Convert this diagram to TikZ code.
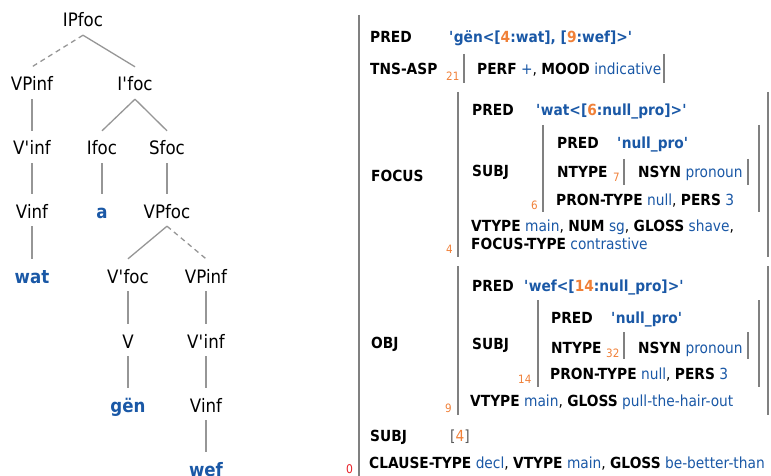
\documentclass[tikz,border=0pt]{standalone}
\usepackage{fontspec}
\setmainfont[FakeStretch=0.9]{DejaVu Sans}
\usepackage{tikz}
\definecolor{fsblue}{RGB}{26,88,166}
\definecolor{fsorange}{RGB}{240,128,56}
\definecolor{fsred}{RGB}{232,32,40}
\definecolor{fsbar}{RGB}{128,128,128}
\definecolor{trline}{RGB}{150,150,150}
\definecolor{fsgrey}{RGB}{90,90,90}
\newcommand{\fattr}[1]{\textbf{#1}}
\newcommand{\fval}[1]{\textcolor{fsblue}{#1}}
\newcommand{\fsem}[1]{\textbf{\textcolor{fsblue}{#1}}}
\newcommand{\fidx}[1]{\textcolor{fsorange}{#1}}
\newcommand{\fq}{\textquotesingle}

\begin{document}
\begin{tikzpicture}[x=1pt, y=-1pt,
    tn/.style={anchor=base, inner sep=4pt, text height=20pt, text depth=4pt, font=\fontsize{18.5}{20}\selectfont},
    lf/.style={tn, text=fsblue, font=\fontsize{18.5}{20}\selectfont\bfseries},
    br/.style={trline, line width=1.3pt},
    brd/.style={br, dash pattern=on 5pt off 4pt},
    fs/.style={anchor=base west, inner sep=0pt, font=\fontsize{15.3}{18}\selectfont},
    ix/.style={anchor=base west, inner sep=0pt, text=fsorange, font=\fontsize{11.5}{13}\selectfont},
    bar/.style={fsbar, line width=2.2pt}]
          \useasboundingbox (0, 0) rectangle (771, 476);
          \node [tn] (IPF) at (83, 27) {IPfoc};
          \node [tn] (VPL) at (32, 91) {VPinf};
          \node [tn] (IBF) at (135, 91) {I\fq foc};
          \node [tn] (VBL) at (32, 155) {V\fq inf};
          \node [tn] (IFC) at (102, 155) {Ifoc};
          \node [tn] (SFC) at (167, 155) {Sfoc};
          \node [tn] (VIL) at (32, 218) {Vinf};
          \node [lf] (AA) at (102, 218) {a};
          \node [tn] (VPF) at (167, 218) {VPfoc};
          \node [lf] (WAT) at (32, 283) {wat};
          \node [tn] (VBF) at (128, 283) {V\fq foc};
          \node [tn] (VPR) at (206, 283) {VPinf};
          \node [tn] (VV) at (128, 348) {V};
          \node [tn] (VBR) at (206, 348) {V\fq inf};
          \node [lf] (GEN) at (128, 412) {gën};
          \node [tn] (VIR) at (206, 412) {Vinf};
          \node [lf] (WEF) at (206, 476) {wef};
          \draw [brd] (IPF.south) -- (VPL.north);
          \draw [br] (IPF.south) -- (IBF.north);
          \draw [br] (VPL.south) -- (VBL.north);
          \draw [br] (IBF.south) -- (IFC.north);
          \draw [br] (IBF.south) -- (SFC.north);
          \draw [br] (VBL.south) -- (VIL.north);
          \draw [br] (IFC.south) -- (AA.north);
          \draw [br] (SFC.south) -- (VPF.north);
          \draw [br] (VIL.south) -- (WAT.north);
          \draw [br] (VPF.south) -- (VBF.north);
          \draw [brd] (VPF.south) -- (VPR.north);
          \draw [br] (VBF.south) -- (VV.north);
          \draw [br] (VPR.south) -- (VBR.north);
          \draw [br] (VV.south) -- (GEN.north);
          \draw [br] (VBR.south) -- (VIR.north);
          \draw [br] (VIR.south) -- (WEF.north);
          \draw [bar] (359, 15) -- (359, 476);
          \node [ix, text=fsred, font=\fontsize{12}{13}\selectfont] (I0) at (346, 473) {0};
          \node [fs] (P0) at (370, 42.5) {\fattr{PRED}};
          \node [fs] (P0V) at (449, 42.5) {\fsem{\fq gën<[\fidx{4}:wat], [\fidx{9}:wef]>\fq}};
          \node [fs] (T0) at (370, 75) {\fattr{TNS-ASP}};
          \node [ix] (I21) at (446, 81) {21};
          \draw [bar] (464, 54) -- (464, 83);
          \node [fs] (T0V) at (477, 75) {\fattr{PERF} \fval{+}, \fattr{MOOD} \fval{indicative}};
          \draw [bar] (664, 54) -- (664, 83);
          \node [fs] (F0) at (371, 182) {\fattr{FOCUS}};
          \draw [bar] (458, 92) -- (458, 257);
          \draw [bar] (768, 92) -- (768, 257);
          \node [ix] (I4) at (446, 253) {4};
          \node [fs] (P4) at (472, 116) {\fattr{PRED}};
          \node [fs] (P4V) at (536, 116) {\fsem{\fq wat<[\fidx{6}:null\_pro]>\fq}};
          \node [fs] (S4) at (472, 176) {\fattr{SUBJ}};
          \draw [bar] (543, 125) -- (543, 212);
          \draw [bar] (759, 125) -- (759, 212);
          \node [ix] (I6) at (531, 209) {6};
          \node [fs] (P6) at (557, 149) {\fattr{PRED}};
          \node [fs] (P6V) at (617, 149) {\fsem{\fq null\_pro\fq}};
          \node [fs] (N6) at (557, 178) {\fattr{NTYPE}};
          \node [ix] (I7) at (613, 182) {7};
          \draw [bar] (624, 159) -- (624, 185);
          \node [fs] (N7) at (638, 178) {\fattr{NSYN} \fval{pronoun}};
          \draw [bar] (748, 159) -- (748, 185);
          \node [fs] (R6) at (556, 205) {\fattr{PRON-TYPE} \fval{null}, \fattr{PERS} \fval{3}};
          \node [fs] (V4) at (471, 231) {\fattr{VTYPE} \fval{main}, \fattr{NUM} \fval{sg}, \fattr{GLOSS} \fval{shave},};
          \node [fs] (FT4) at (471, 249) {\fattr{FOCUS-TYPE} \fval{contrastive}};
          \node [fs] (O0) at (371, 348) {\fattr{OBJ}};
          \draw [bar] (458, 266) -- (458, 415);
          \draw [bar] (768, 266) -- (768, 415);
          \node [ix] (I9) at (445, 412) {9};
          \node [fs] (P9) at (472, 291) {\fattr{PRED}};
          \node [fs] (P9V) at (524, 291) {\fsem{\fq wef<[\fidx{14}:null\_pro]>\fq}};
          \node [fs] (S9) at (472, 349) {\fattr{SUBJ}};
          \draw [bar] (538, 300) -- (538, 387);
          \draw [bar] (759, 300) -- (759, 387);
          \node [ix] (I14) at (518, 383) {14};
          \node [fs] (P14) at (551, 323) {\fattr{PRED}};
          \node [fs] (P14V) at (611, 323) {\fsem{\fq null\_pro\fq}};
          \node [fs] (N14) at (551, 353) {\fattr{NTYPE}};
          \node [ix] (I32) at (606, 357) {32};
          \draw [bar] (624, 332) -- (624, 359);
          \node [fs] (N32) at (638, 353) {\fattr{NSYN} \fval{pronoun}};
          \draw [bar] (748, 332) -- (748, 359);
          \node [fs] (R14) at (550, 379) {\fattr{PRON-TYPE} \fval{null}, \fattr{PERS} \fval{3}};
          \node [fs] (V9) at (470, 406) {\fattr{VTYPE} \fval{main}, \fattr{GLOSS} \fval{pull-the-hair-out}};
          \node [fs] (S0) at (370, 441) {\fattr{SUBJ}};
          \node [fs] (S0V) at (450, 441) {\textcolor{fsgrey}{[}\fidx{4}\textcolor{fsgrey}{]}};
          \node [fs] (C0) at (369, 468) {\fattr{CLAUSE-TYPE} \fval{decl}, \fattr{VTYPE} \fval{main}, \fattr{GLOSS} \fval{be-better-than}};
  \end{tikzpicture}
\end{document}
